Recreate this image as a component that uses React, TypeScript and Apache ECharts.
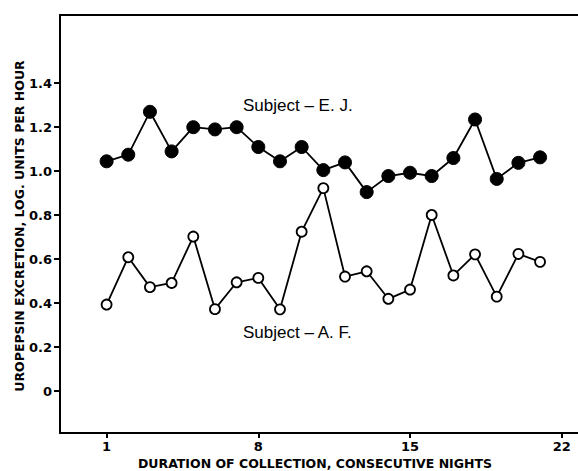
import React, { useEffect, useRef } from "react";
import * as echarts from "echarts";

const days = [1, 2, 3, 4, 5, 6, 7, 8, 9, 10, 11, 12, 13, 14, 15, 16, 17, 18, 19, 20, 21];
const ejValues = [1.045, 1.075, 1.27, 1.09, 1.2, 1.19, 1.2, 1.11, 1.045, 1.11, 1.005, 1.04, 0.905, 0.978, 0.993, 0.978, 1.06, 1.235, 0.965, 1.038, 1.063];
const afValues = [0.394, 0.609, 0.473, 0.492, 0.703, 0.373, 0.495, 0.515, 0.372, 0.725, 0.923, 0.521, 0.545, 0.42, 0.462, 0.801, 0.526, 0.622, 0.43, 0.624, 0.588];
const yTicks = [0, 0.2, 0.4, 0.6, 0.8, 1.0, 1.2, 1.4];
const yTickLabels = ["0", "0.2", "0.4", "0.6", "0.8", "1.0", "1.2", "1.4"];
const xTicks = [1, 8, 15, 22];
const ejLabel = "Subject \u2013 E. J.";
const afLabel = "Subject \u2013 A. F.";
const xName = "DURATION OF COLLECTION, CONSECUTIVE NIGHTS";
const yName = "UROPEPSIN EXCRETION, LOG. UNITS PER HOUR";

export default function App() {
  const ref = useRef<HTMLDivElement>(null);
  useEffect(() => {
    if (!ref.current) return;
    const chart = echarts.init(ref.current, undefined, { renderer: "svg" });
    const labelFont = {
      color: "#000",
      fontFamily: "DejaVu Sans",
      fontWeight: "bold" as const,
      fontSize: 13,
    };
    chart.setOption({
      animation: false,
      backgroundColor: "#fff",
      grid: { left: 60, right: 0, top: 15, bottom: 38 },
      xAxis: [
        {
          type: "value",
          min: -1.15,
          max: 22.75,
          splitLine: { show: false },
          axisLine: { show: true, onZero: false, lineStyle: { color: "#000", width: 2 } },
          axisTick: { show: true, customValues: xTicks, length: 5, lineStyle: { color: "#000", width: 2 } },
          axisLabel: { customValues: xTicks, margin: 7, ...labelFont },
        },
        {
          type: "value",
          position: "top",
          min: -1.15,
          max: 22.75,
          splitLine: { show: false },
          axisLine: { show: true, onZero: false, lineStyle: { color: "#000", width: 2 } },
          axisTick: { show: false },
          axisLabel: { show: false },
        },
      ],
      yAxis: {
        type: "value",
        min: -0.19,
        max: 1.71,
        splitLine: { show: false },
        axisLine: { show: true, onZero: false, lineStyle: { color: "#000", width: 2 } },
        axisTick: { show: true, customValues: yTicks, length: 6, lineStyle: { color: "#000", width: 2 } },
        axisLabel: {
          customValues: yTicks,
          margin: 8,
          ...labelFont,
          formatter: (v: number) => {
            const i = yTicks.findIndex((t) => Math.abs(t - v) < 1e-6);
            return i >= 0 ? yTickLabels[i] : "";
          },
        },
      },
      series: [
        {
          name: "E.J.",
          type: "line",
          data: days.map((d, i) => [d, ejValues[i]]),
          symbol: "circle",
          symbolSize: 13,
          lineStyle: { color: "#000", width: 1.8 },
          itemStyle: { color: "#000", borderColor: "#000", borderWidth: 1 },
          z: 3,
        },
        {
          name: "A.F.",
          type: "line",
          data: days.map((d, i) => [d, afValues[i]]),
          symbol: "circle",
          symbolSize: 10,
          showAllSymbol: true,
          lineStyle: { color: "#000", width: 1.8 },
          itemStyle: { color: "#fff", borderColor: "#000", borderWidth: 1.8 },
          z: 3,
        },
      ],
      graphic: [
        {
          type: "text",
          left: 243,
          top: 97,
          style: { text: ejLabel, fill: "#000", font: "17px 'Liberation Sans'" },
        },
        {
          type: "text",
          left: 243,
          top: 324,
          style: { text: afLabel, fill: "#000", font: "17px 'Liberation Sans'" },
        },
        {
          type: "text",
          x: 315,
          y: 463,
          style: {
            text: xName,
            fill: "#000",
            font: "bold 12.5px 'DejaVu Sans'",
            align: "center",
            verticalAlign: "middle",
          },
        },
        {
          type: "text",
          x: 19,
          y: 226,
          rotation: Math.PI / 2,
          style: {
            text: yName,
            fill: "#000",
            font: "bold 12.5px 'DejaVu Sans'",
            align: "center",
            verticalAlign: "middle",
          },
        },
      ],
    });
    return () => chart.dispose();
  }, []);
  return <div ref={ref} style={{ width: 578, height: 471, position: "absolute", left: 0, top: 0 }} />;
}
